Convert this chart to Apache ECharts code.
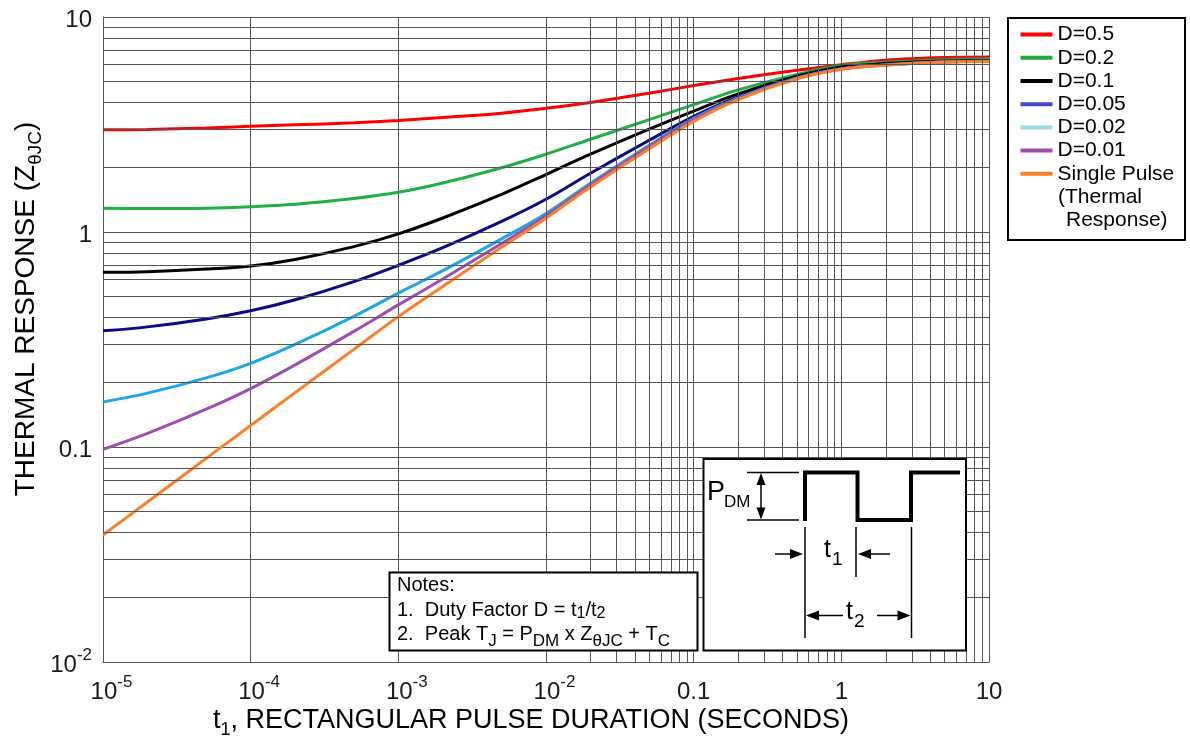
<!DOCTYPE html>
<html><head><meta charset="utf-8">
<script src="https://cdn.jsdelivr.net/npm/echarts@6/dist/echarts.min.js"></script>
<style>html,body{margin:0;padding:0;background:#fff}#c{width:1190px;height:742px}</style>
</head><body><div id="c"></div>
<script>
const FONT = '"Liberation Sans", Arial, Helvetica, sans-serif';

// pulse durations t1 (s)
const durations = [1e-5, 2e-5, 5e-5, 1e-4, 2e-4, 5e-4, 1e-3, 2e-3, 5e-3, 1e-2, 2e-2, 5e-2, 0.1, 0.2, 0.5, 1, 2, 5, 10];

const seriesNames = ['D=0.5', 'D=0.2', 'D=0.1', 'D=0.05', 'D=0.02', 'D=0.01', 'Single Pulse'];
const d05    = [2.99, 3.0, 3.05, 3.1, 3.15, 3.22, 3.3, 3.41, 3.57, 3.76, 4.0, 4.42, 4.8, 5.17, 5.65, 6.0, 6.3, 6.48, 6.52];
const d02    = [1.29, 1.285, 1.29, 1.31, 1.346, 1.432, 1.53, 1.69, 1.99, 2.30, 2.70, 3.33, 3.91, 4.58, 5.41, 5.95, 6.16, 6.33, 6.37];
const d01    = [0.65, 0.654, 0.672, 0.695, 0.745, 0.855, 0.98, 1.162, 1.496, 1.85, 2.30, 3.01, 3.65, 4.39, 5.30, 5.85, 6.07, 6.24, 6.28];
const d005   = [0.347, 0.362, 0.394, 0.43, 0.484, 0.588, 0.70, 0.845, 1.12, 1.42, 1.876, 2.67, 3.45, 4.25, 5.22, 5.78, 6.02, 6.21, 6.25];
const d002   = [0.162, 0.178, 0.2096, 0.245, 0.300, 0.405, 0.52, 0.661, 0.929, 1.22, 1.686, 2.53, 3.38, 4.21, 5.20, 5.75, 5.99, 6.18, 6.23];
const d001   = [0.0975, 0.1158, 0.150, 0.187, 0.241, 0.345, 0.458, 0.605, 0.884, 1.19, 1.658, 2.50, 3.33, 4.17, 5.17, 5.73, 5.98, 6.17, 6.22];
const single = [0.039, 0.0555, 0.0885, 0.126, 0.179, 0.2844, 0.404, 0.558, 0.849, 1.16, 1.618, 2.44, 3.27, 4.13, 5.16, 5.72, 5.97, 6.17, 6.21];
const allSeries = [d05, d02, d01, d005, d002, d001, single];

const lineColors   = ['#ff0000', '#1faf45', '#000000', '#0a0a85', '#1ea6e6', '#9d4fb0', '#ff7f27'];
const legendColors = ['#ff0000', '#1faa3c', '#000000', '#3f48cc', '#99d9ea', '#a349a4', '#ff7f27'];

// tick labels
const xTickBase = ['10', '10', '10', '10', '0.1', '1', '10'];
const xTickExp  = ['-5', '-4', '-3', '-2', '', '', ''];
const yTickBase = ['10', '0.1', '1', '10'];
const yTickExp  = ['-2', '', '', ''];

// minor log grid
const minorSteps = [2, 3, 4, 5, 6, 7, 8, 9];
const xDecades = [1e-5, 1e-4, 1e-3, 1e-2, 0.1, 1];
const yDecades = [0.01, 0.1, 1];

const gridColor = '#555555';
const minorLines = [];
xDecades.forEach(d => minorSteps.forEach(k => minorLines.push({ xAxis: +(d * k).toPrecision(3) })));
yDecades.forEach(d => minorSteps.forEach(k => minorLines.push({ yAxis: +(d * k).toPrecision(3) })));

const labelRich = {
  b:   { fontSize: 24, lineHeight: 30, verticalAlign: 'bottom', fontFamily: FONT, color: '#1a1a1a' },
  sup: { fontSize: 17, lineHeight: 14, verticalAlign: 'top', fontFamily: FONT, color: '#1a1a1a' },
  sp:  { fontSize: 17, lineHeight: 14, width: 17 }
};

const series = allSeries.map((arr, i) => ({
  name: seriesNames[i],
  type: 'line',
  data: durations.map((t, j) => [t, arr[j]]),
  smooth: 0.35,
  showSymbol: false,
  symbol: 'none',
  z: 3,
  lineStyle: { color: lineColors[i], width: 3 },
  itemStyle: { color: legendColors[i] },
  emphasis: { disabled: true },
  silent: true
}));
series.unshift({
  type: 'line', data: [], z: 1, silent: true,
  markLine: {
    silent: true, animation: false, symbol: ['none', 'none'],
    label: { show: false },
    lineStyle: { color: gridColor, width: 1, type: 'solid' },
    emphasis: { disabled: true },
    data: minorLines
  }
});

const T = (x, y, text, size) => ({
  type: 'text', x: x, y: y, z: 12,
  style: { text: text, font: size + 'px ' + FONT, fill: '#000', textAlign: 'left', textVerticalAlign: 'middle' }
});
const L = (x1, y1, x2, y2, w) => ({ type: 'line', z: 12, shape: { x1, y1, x2, y2 }, style: { stroke: '#000', lineWidth: w || 1.5 } });
const P = (pts) => ({ type: 'polygon', z: 12, shape: { points: pts }, style: { fill: '#000' } });

// rich styles: subscripts sit lower than the base text
const richSub = (bs, ss, drop) => ({
  b:   { fontSize: bs, verticalAlign: 'bottom', padding: [0, 0, drop, 0], fontFamily: FONT, fill: '#000', color: '#000' },
  sub: { fontSize: ss, verticalAlign: 'bottom', fontFamily: FONT, fill: '#000', color: '#000' }
});

const graphics = [
  // legend frame
  { type: 'rect', z: 1, shape: { x: 1008, y: 18, width: 177, height: 222 }, style: { fill: '#fff', stroke: '#000', lineWidth: 2 } },
  T(1058, 197, '(Thermal', 21),
  T(1066, 220, 'Response)', 21),
  // axis titles
  { type: 'text', z: 12, x: 29, y: 309, rotation: Math.PI / 2,
    style: { text: '{b|THERMAL RESPONSE (Z}{sub|θJC}{b|)}', rich: richSub(28, 19, 5), textAlign: 'center', textVerticalAlign: 'middle' } },
  { type: 'text', z: 12, x: 531, y: 723,
    style: { text: '{b|t}{sub|1}{b|, RECTANGULAR PULSE DURATION (SECONDS)}', rich: richSub(27, 18, 5), textAlign: 'center', textVerticalAlign: 'middle' } },
  // notes box
  { type: 'rect', z: 10, shape: { x: 389.5, y: 572.5, width: 308, height: 78 }, style: { fill: '#fff', stroke: '#000', lineWidth: 2 } },
  T(397, 585, 'Notes:', 20),
  { type: 'text', z: 12, x: 397, y: 611,
    style: { text: '{b|1.  Duty Factor D = t}{sub|1}{b|/t}{sub|2}', rich: richSub(20, 16, 1), textAlign: 'left', textVerticalAlign: 'middle' } },
  { type: 'text', z: 12, x: 397, y: 637,
    style: { text: '{b|2.  Peak T}{sub|J}{b| = P}{sub|DM}{b| x Z}{sub|θJC}{b| + T}{sub|C}', rich: richSub(20, 17, 5), textAlign: 'left', textVerticalAlign: 'middle' } },
  // pulse diagram box
  { type: 'rect', z: 10, shape: { x: 703.5, y: 459, width: 262.5, height: 191.5 }, style: { fill: '#fff', stroke: '#000', lineWidth: 2 } },
  { type: 'polyline', z: 12, shape: { points: [[805, 521], [805, 472.5], [857.5, 472.5], [857.5, 520], [911, 520], [911, 472.5], [960, 472.5]] },
    style: { stroke: '#000', lineWidth: 4, fill: null } },
  L(747, 472.5, 799, 472.5), L(747, 520, 799, 520),
  L(761, 480, 761, 512),
  P([[761, 473], [756.5, 485], [765.5, 485]]), P([[761, 519.5], [756.5, 507.5], [765.5, 507.5]]),
  T(707, 493, 'P', 27),
  T(724, 502, 'DM', 17),
  L(805, 527, 805, 638), L(856, 527, 856, 577), L(911.5, 527, 911.5, 638),
  L(775, 554, 793, 554), P([[803, 554], [790, 549], [790, 559]]),
  L(890, 554, 868, 554), P([[858, 554], [871, 549], [871, 559]]),
  T(824, 550, 't', 25), T(832, 560, '1', 19),
  L(817, 615.5, 843, 615.5), P([[806, 615.5], [819, 610.5], [819, 620.5]]),
  L(877, 615.5, 900, 615.5), P([[910.5, 615.5], [897.5, 610.5], [897.5, 620.5]]),
  T(846, 612, 't', 25), T(854, 622, '2', 19)
];

const chart = echarts.init(document.getElementById('c'), null, { renderer: 'canvas' });
chart.setOption({
  animation: false,
  backgroundColor: '#fff',
  textStyle: { fontFamily: FONT },
  grid: { left: 103, top: 17, width: 886, height: 645, containLabel: false },
  xAxis: {
    type: 'log', logBase: 10, min: 1e-5, max: 10,
    axisLine: { show: true, lineStyle: { color: gridColor, width: 1 } },
    axisTick: { show: false },
    splitLine: { show: true, lineStyle: { color: gridColor, width: 1 } },
    axisLabel: {
      margin: 12,
      formatter: function (v) {
        const i = Math.round(Math.log10(v)) + 5;
        return xTickExp[i] ? '{sp| }{b|' + xTickBase[i] + '}{sup|' + xTickExp[i] + '}' : '{b|' + xTickBase[i] + '}';
      },
      rich: labelRich
    }
  },
  yAxis: {
    type: 'log', logBase: 10, min: 0.01, max: 10,
    axisLine: { show: true, lineStyle: { color: gridColor, width: 1 } },
    axisTick: { show: false },
    splitLine: { show: true, lineStyle: { color: gridColor, width: 1 } },
    axisLabel: {
      margin: 11,
      formatter: function (v) {
        const i = Math.round(Math.log10(v)) + 2;
        return yTickExp[i] ? '{b|' + yTickBase[i] + '}{sup|' + yTickExp[i] + '}' : '{b|' + yTickBase[i] + '}';
      },
      rich: labelRich
    }
  },
  legend: {
    orient: 'vertical', left: 1020.5, top: 23, padding: 0, z: 5,
    itemWidth: 32, itemHeight: 4, itemGap: 0, icon: 'rect', selectedMode: false,
    textStyle: { fontSize: 21, lineHeight: 23.2, fontFamily: FONT, color: '#000' },
    data: seriesNames.map((n, i) => ({ name: n, itemStyle: { color: legendColors[i] } }))
  },
  graphic: graphics,
  series: series
});
</script>
</body></html>
